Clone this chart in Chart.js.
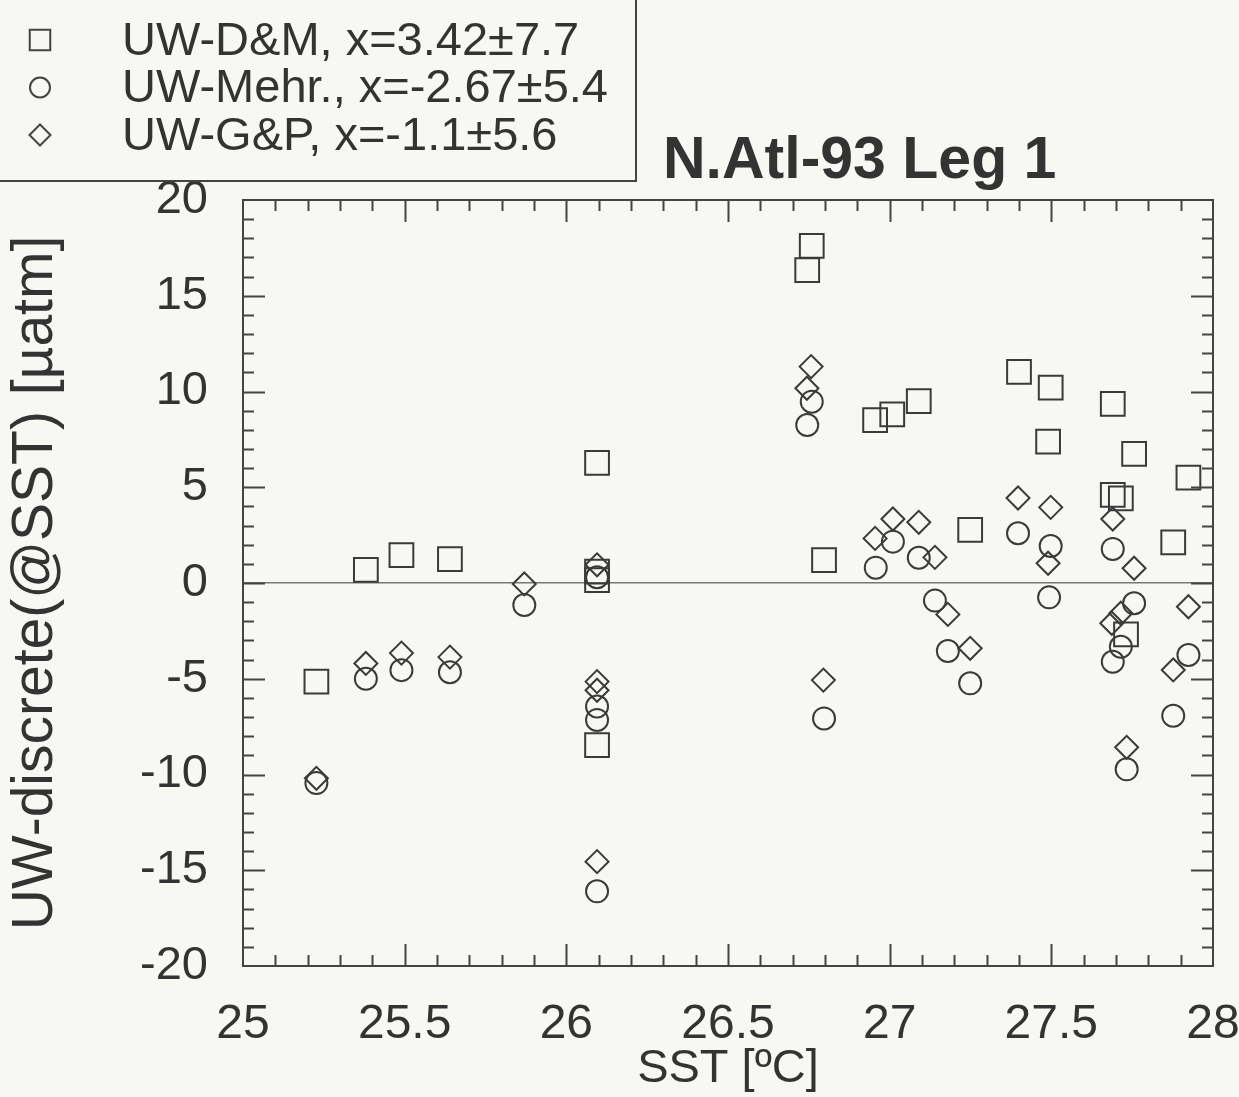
<!DOCTYPE html>
<html>
<head>
<meta charset="utf-8">
<script src="https://cdn.jsdelivr.net/npm/chart.js@4.4.0/dist/chart.umd.min.js"></script>
<style>
  html, body { margin: 0; padding: 0; background: #f7f7f4; }
  #wrap { width: 1239px; height: 1097px; position: relative; }
</style>
</head>
<body>
<div id="wrap"><canvas id="sst"></canvas></div>
<script>
// values
var seriesLabels = ['UW-D\u0026M, x=3.42\u00b17.7', 'UW-Mehr., x=-2.67\u00b15.4', 'UW-G\u0026P, x=-1.1\u00b15.6'];

var dmX = [25.227, 25.38, 25.49, 25.64, 26.095, 26.095, 26.095, 26.095, 26.759, 26.745, 26.797, 26.955, 27.008,
           27.09, 27.249, 27.40, 27.498, 27.49, 27.69, 27.69, 27.715, 27.731, 27.756, 27.877, 27.924];
var dmY = [-5.15, 0.68, 1.46, 1.25, 6.27, 0.6, 0.15, -8.46, 17.6, 16.34, 1.2, 8.51, 8.81,
           9.5, 2.77, 11.03, 10.2, 7.38, 9.35, 4.6, 4.42, -2.68, 6.74, 2.12, 5.5];

var mehrX = [25.227, 25.38, 25.49, 25.64, 25.87, 26.095, 26.095, 26.095, 26.095, 26.759, 26.745, 26.797, 26.957, 27.01,
             27.09, 27.14, 27.18, 27.249, 27.397, 27.498, 27.493, 27.69, 27.715, 27.69, 27.733, 27.756, 27.877, 27.924];
var mehrY = [-10.45, -5.0, -4.55, -4.66, -1.15, 0.3, -6.45, -7.15, -16.1, 9.47, 8.25, -7.07, 0.8, 2.16,
             1.32, -0.92, -3.55, -5.24, 2.6, 1.93, -0.75, 1.78, -3.33, -4.11, -9.73, -1.06, -6.93, -3.76];

var gpX = [25.227, 25.38, 25.49, 25.64, 25.87, 26.095, 26.095, 26.095, 26.095, 26.757, 26.744, 26.795, 26.955, 27.01,
           27.09, 27.14, 27.18, 27.249, 27.397, 27.498, 27.49, 27.69, 27.715, 27.687, 27.733, 27.756, 27.877, 27.924];
var gpY = [-10.2, -4.2, -3.66, -3.87, -0.05, 0.95, -5.15, -5.6, -14.55, 11.3, 10.17, -5.07, 2.33, 3.34,
           3.17, 1.34, -1.64, -3.41, 4.44, 3.95, 1.03, 3.34, -1.58, -2.1, -8.58, 0.77, -4.54, -1.24];

var xTicks = { min: 25, max: 28, major: 0.5, minor: 0.1 };
var yTicks = { min: -20, max: 20, major: 5, minor: 1 };

var ink = '#333333';
var fontName = '"Liberation Sans", Arial, sans-serif';

function pts(xs, ys) {
    return xs.map(function(x, i) { return { x: x, y: ys[i] }; });
}

// inward ticks on all four sides + box frame
var frameTicks = {
    id: 'frameTicks',
    afterDatasetsDraw: function(chart) {
        var a = chart.chartArea, ctx = chart.ctx;
        var xs = chart.scales.x, ys = chart.scales.y;
        ctx.save();
        ctx.strokeStyle = '#444';
        ctx.lineWidth = 2;
        ctx.beginPath();
        var nx = Math.round((xTicks.max - xTicks.min) / xTicks.minor);
        var per = Math.round(xTicks.major / xTicks.minor);
        for (var i = 1; i < nx; i++) {
            var px = Math.round(xs.getPixelForValue(xTicks.min + i * xTicks.minor)) + 0.5;
            var len = i % per === 0 ? 22 : 11;
            ctx.moveTo(px, a.bottom); ctx.lineTo(px, a.bottom - len);
            ctx.moveTo(px, a.top); ctx.lineTo(px, a.top + len);
        }
        var ny = Math.round((yTicks.max - yTicks.min) / yTicks.minor);
        per = Math.round(yTicks.major / yTicks.minor);
        for (var j = 1; j < ny; j++) {
            var py = Math.round(ys.getPixelForValue(yTicks.min + j * yTicks.minor)) + 0.5;
            var len2 = j % per === 0 ? 22 : 11;
            ctx.moveTo(a.left, py); ctx.lineTo(a.left + len2, py);
            ctx.moveTo(a.right, py); ctx.lineTo(a.right - len2, py);
        }
        ctx.stroke();
        ctx.strokeRect(a.left, a.top, a.right - a.left, a.bottom - a.top);
        ctx.restore();
    }
};

// boxed legend in the top-left corner and the title
var boxLegend = {
    id: 'boxLegend',
    afterDraw: function(chart) {
        var ctx = chart.ctx;
        ctx.save();
        ctx.strokeStyle = '#444';
        ctx.lineWidth = 2;
        ctx.strokeRect(-2, -2, 638, 183);
        var sizes = [14.5, 10, 10.5];
        chart.data.datasets.forEach(function(ds, i) {
            var y = 40 + i * 47.5;
            ctx.strokeStyle = '#444';
            ctx.fillStyle = 'rgba(0,0,0,0)';
            Chart.helpers.drawPoint(ctx, { pointStyle: ds.pointStyle, radius: sizes[i], borderWidth: 1.6, rotation: 0 }, 40, y);
            ctx.fillStyle = ink;
            ctx.font = '47px ' + fontName;
            ctx.textBaseline = 'middle';
            ctx.textAlign = 'left';
            ctx.fillText(ds.label, 122, y + 2);
        });
        ctx.fillStyle = ink;
        ctx.font = 'bold 59px ' + fontName;
        ctx.textBaseline = 'middle';
        ctx.fillText('N.Atl-93 Leg 1', 663, 162);
        ctx.restore();
    }
};

var markerStyle = { backgroundColor: 'rgba(0,0,0,0)', borderColor: '#3a3a3a', borderWidth: 2, pointBorderWidth: 2 };

new Chart(document.getElementById('sst').getContext('2d'), {
    type: 'scatter',
    data: {
        datasets: [
            Object.assign({ label: seriesLabels[0], data: pts(dmX, dmY), pointStyle: 'rect', pointRadius: 16.8 }, markerStyle),
            Object.assign({ label: seriesLabels[1], data: pts(mehrX, mehrY), pointStyle: 'circle', pointRadius: 11 }, markerStyle),
            Object.assign({ label: seriesLabels[2], data: pts(gpX, gpY), pointStyle: 'rectRot', pointRadius: 11.5 }, markerStyle)
        ]
    },
    options: {
        responsive: true,
        maintainAspectRatio: false,
        animation: false,
        layout: { padding: { top: 200, right: 26, bottom: 0, left: 0 } },
        plugins: {
            legend: { display: false },
            title: { display: false },
            tooltip: { enabled: false }
        },
        scales: {
            x: {
                type: 'linear',
                min: xTicks.min,
                max: xTicks.max,
                afterFit: function(s) { s.height = 131; s.paddingLeft = 0; s.paddingRight = 0; },
                ticks: {
                    stepSize: xTicks.major,
                    color: ink,
                    padding: 30,
                    font: { family: fontName, size: 48 },
                    callback: function(v) { return String(Math.round(v * 10) / 10); }
                },
                grid: { drawOnChartArea: false, drawTicks: false },
                border: { display: false },
                title: {
                    display: true,
                    text: 'SST [\u00baC]',
                    color: ink,
                    font: { family: fontName, size: 47 },
                    padding: { top: 0, bottom: 0 }
                }
            },
            y: {
                min: yTicks.min,
                max: yTicks.max,
                afterFit: function(s) { s.width = 243; },
                ticks: {
                    stepSize: yTicks.major,
                    color: ink,
                    padding: 35,
                    font: { family: fontName, size: 47 }
                },
                grid: {
                    drawTicks: false,
                    lineWidth: 1.5,
                    color: function(c) { return c.tick && c.tick.value === 0 ? '#777' : 'rgba(0,0,0,0)'; }
                },
                border: { display: false },
                title: {
                    display: true,
                    text: 'UW-discrete(@SST) [\u00b5atm]',
                    color: ink,
                    font: { family: fontName, size: 57 },
                    padding: { top: 2, bottom: 0 }
                }
            }
        }
    },
    plugins: [frameTicks, boxLegend]
});
</script>
</body>
</html>
